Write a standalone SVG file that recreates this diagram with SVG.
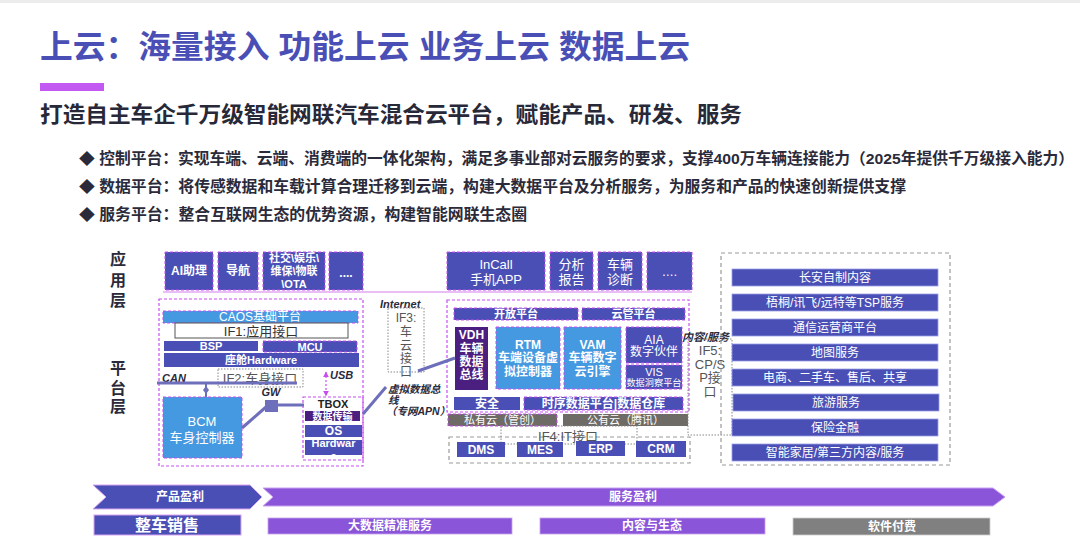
<svg xmlns="http://www.w3.org/2000/svg" width="1080" height="543" viewBox="0 0 1080 543">
<style>
text { font-family: "Liberation Sans", "Noto Sans CJK SC", sans-serif; }
.c { text-anchor: middle; dominant-baseline: central; }
.m { dominant-baseline: central; }
.w { fill: #ffffff; }
.b { font-weight: bold; }
.ind { fill: #4a4fb6; }
.indd { fill: #4a4fb6; stroke: #c84cf0; stroke-width: 1; stroke-dasharray: 3 2; }
.blue { fill: #4599e0; stroke: #c84cf0; stroke-width: 1; stroke-dasharray: 3 2; }
.dp { fill: #4a1f80; }
.mag { fill: none; stroke: #c84cf0; stroke-width: 1.2; stroke-dasharray: 3 2; }
.gdot { fill: none; stroke: #888888; stroke-width: 1; stroke-dasharray: 1.5 1.5; }
.gdash { fill: none; stroke: #9a9a9a; stroke-width: 1.2; stroke-dasharray: 4 3; }
.conn { stroke: #6e6fbb; stroke-width: 3; fill: none; }
.lab { font-weight: bold; font-style: italic; fill: #2a2a3a; font-size: 11px; }
.gt { fill: #555555; font-size: 13px; }
.svc { fill: #4a4fb6; stroke: #9a9ee6; stroke-width: 0.8; }
.cloud { fill: #6e6a66; }
.pur { fill: #8a55d8; }
</style>
<defs>
<marker id="ah" viewBox="0 0 10 10" refX="9" refY="5" markerWidth="5" markerHeight="5" orient="auto-start-reverse">
<path d="M0,0 L10,5 L0,10 z" fill="#c84cf0"/>
</marker>
<clipPath id="hwclip"><rect x="305" y="440" width="57" height="15"/></clipPath>
</defs>

<rect x="0" y="0" width="1080" height="3" fill="#ececec"/>

<g id="header">
<text x="40" y="47" class="m b" font-size="32" fill="#4a4fb6" textLength="650" lengthAdjust="spacingAndGlyphs">上云：海量接入 功能上云 业务上云 数据上云</text>
<rect x="40" y="83" width="64" height="8" fill="#c458f2"/>
<text x="40" y="114" class="m b" font-size="22" fill="#272838" textLength="702" lengthAdjust="spacingAndGlyphs">打造自主车企千万级智能网联汽车混合云平台，赋能产品、研发、服务</text>
<text x="79" y="158" class="m b" font-size="15.5" fill="#2a2a3a" textLength="995" lengthAdjust="spacingAndGlyphs">◆ 控制平台：实现车端、云端、消费端的一体化架构，满足多事业部对云服务的要求，支撑400万车辆连接能力（2025年提供千万级接入能力）</text>
<text x="79" y="186" class="m b" font-size="15.5" fill="#2a2a3a" textLength="827" lengthAdjust="spacingAndGlyphs">◆ 数据平台：将传感数据和车载计算合理迁移到云端，构建大数据平台及分析服务，为服务和产品的快速创新提供支撑</text>
<text x="79" y="214" class="m b" font-size="15.5" fill="#2a2a3a" textLength="448" lengthAdjust="spacingAndGlyphs">◆ 服务平台：整合互联网生态的优势资源，构建智能网联生态圈</text>
</g>

<g id="layer-labels" class="b" font-size="16" fill="#2a2a3a">
<text x="118" y="259" class="c">应</text>
<text x="118" y="280" class="c">用</text>
<text x="118" y="300" class="c">层</text>
<text x="118" y="368" class="c">平</text>
<text x="118" y="388" class="c">台</text>
<text x="118" y="406" class="c">层</text>
</g>

<line x1="163" y1="292" x2="692" y2="292" stroke="#e2a8f2" stroke-width="1.5"/>

<g id="app-ai"><rect x="165" y="252" width="48" height="38" class="indd"/><text x="189" y="271" class="c w b" font-size="12">AI助理</text></g>
<g id="app-nav"><rect x="218" y="252" width="40" height="38" class="indd"/><text x="238" y="271" class="c w b" font-size="12">导航</text></g>
<g id="app-social"><rect x="263" y="252" width="62" height="38" class="indd"/>
<text x="294" y="258" class="c w b" font-size="11">社交\娱乐\</text>
<text x="294" y="271" class="c w b" font-size="11">维保\物联</text>
<text x="294" y="284" class="c w b" font-size="11">\OTA</text></g>
<g id="app-more1"><rect x="329" y="252" width="34" height="38" class="indd"/><text x="346" y="273" class="c w b" font-size="12">....</text></g>

<g id="app-incall"><rect x="447" y="252" width="98" height="38" class="indd"/>
<text x="496" y="264" class="c w" font-size="13">InCall</text><text x="496" y="279" class="c w" font-size="13">手机APP</text></g>
<g id="app-report"><rect x="550" y="252" width="43" height="38" class="indd"/>
<text x="571.5" y="264" class="c w" font-size="13">分析</text><text x="571.5" y="279" class="c w" font-size="13">报告</text></g>
<g id="app-diag"><rect x="598" y="252" width="44" height="38" class="indd"/>
<text x="620" y="264" class="c w" font-size="13">车辆</text><text x="620" y="279" class="c w" font-size="13">诊断</text></g>
<g id="app-more2"><rect x="647" y="252" width="45" height="38" class="indd"/><text x="669.5" y="272" class="c w" font-size="12">….</text></g>

<g id="vehicle-platform">
<rect x="159" y="299" width="204" height="167" class="mag"/>
<rect x="163" y="311" width="195" height="12" class="blue"/>
<text x="260" y="317" class="c w" font-size="12">CAOS基础平台</text>
<rect x="175" y="323" width="173" height="15" fill="#ffffff" stroke="#555555" stroke-width="1"/>
<text x="261" y="331" class="c" font-size="13" fill="#333333">IF1:应用接口</text>
<rect x="164" y="341" width="94" height="10" class="ind"/>
<text x="211" y="346" class="c w b" font-size="11">BSP</text>
<rect x="263" y="341" width="94" height="11" class="indd"/>
<text x="310" y="346.5" class="c w b" font-size="11">MCU</text>
<rect x="164" y="353" width="195" height="14" class="ind"/>
<text x="261" y="360" class="c w b" font-size="11">座舱Hardware</text>
</g>

<g id="if2"><rect x="218" y="369" width="85" height="18" class="gdot"/><text x="260" y="378" class="c gt">IF2:车身接口</text></g>
<text x="162" y="378" class="m lab">CAN</text>

<g id="bcm"><rect x="163" y="397" width="79" height="61" class="blue"/>
<text x="202" y="421" class="c w" font-size="13">BCM</text><text x="202" y="437" class="c w" font-size="13">车身控制器</text></g>

<g id="gw"><rect x="265" y="400" width="13" height="12" fill="#6e6fbb"/><text x="271" y="392" class="c lab">GW</text></g>

<g id="tbox"><rect x="303" y="397" width="60" height="63" fill="#ffffff" class="mag"/>
<text x="333" y="404" class="c b" font-size="11" fill="#222">TBOX</text>
<rect x="305" y="411" width="55" height="10" class="dp"/>
<text x="332.5" y="416" class="c w b" font-size="10">数据传输</text>
<rect x="305" y="425" width="57" height="12" class="ind"/>
<text x="333.5" y="431" class="c w b" font-size="12">OS</text>
<rect x="305" y="440" width="57" height="15" class="ind"/>
<g clip-path="url(#hwclip)"><text x="333.5" y="443" class="c w b" font-size="11">Hardwar</text><text x="333.5" y="456" class="c w b" font-size="11">e</text></g>
</g>
<text x="330" y="375" class="m lab">USB</text>

<text x="380" y="304" class="m lab">Internet</text>
<g id="if3"><rect x="388" y="308" width="36" height="64" class="gdot"/>
<text x="406" y="318" class="c gt" style="font-size:12px">IF3:</text><text x="406" y="332" class="c gt" style="font-size:12px">车</text><text x="406" y="346" class="c gt" style="font-size:12px">云</text><text x="406" y="359" class="c gt" style="font-size:12px">接</text><text x="406" y="372" class="c gt" style="font-size:12px">口</text></g>
<g class="lab">
<text x="388" y="389" class="m" style="font-size:10.5px">虚拟数据总</text>
<text x="388" y="400" class="m" style="font-size:10.5px">线</text>
<text x="386" y="411" class="m" style="font-size:10.5px">（专网APN）</text>
</g>

<g id="cloud-platform">
<rect x="447" y="300" width="242" height="112" class="mag"/>
<rect x="454" y="308" width="124" height="12" class="indd"/><text x="516" y="314" class="c w b" font-size="11">开放平台</text>
<rect x="582" y="308" width="103" height="12" class="indd"/><text x="633.5" y="314" class="c w b" font-size="11">云管平台</text>
</g>
<g id="vdh"><rect x="455" y="327" width="33" height="63" class="dp"/>
<text x="471.5" y="335" class="c w b" font-size="12">VDH</text><text x="471.5" y="349" class="c w b" font-size="12">车辆</text><text x="471.5" y="362" class="c w b" font-size="12">数据</text><text x="471.5" y="375" class="c w b" font-size="12">总线</text></g>
<g id="rtm"><rect x="496" y="327" width="64" height="62" class="blue"/>
<text x="528" y="345" class="c w b" font-size="12">RTM</text><text x="528" y="358" class="c w b" font-size="12">车端设备虚</text><text x="528" y="372" class="c w b" font-size="12">拟控制器</text></g>
<g id="vam"><rect x="564" y="327" width="57" height="62" class="blue"/>
<text x="592.5" y="345" class="c w b" font-size="12">VAM</text><text x="592.5" y="358" class="c w b" font-size="12">车辆数字</text><text x="592.5" y="372" class="c w b" font-size="12">云引擎</text></g>
<g id="aia"><rect x="626" y="327" width="56" height="36" class="indd"/>
<text x="654" y="340" class="c w" font-size="12">AIA</text><text x="654" y="352" class="c w" font-size="12">数字伙伴</text></g>
<g id="vis"><rect x="626" y="365" width="56" height="24" class="indd"/>
<text x="654" y="372" class="c w" font-size="11">VIS</text><text x="654" y="383" class="c w" font-size="9.2">数据洞察平台</text></g>
<g id="security"><rect x="454" y="397" width="66" height="13" class="ind"/><text x="487" y="403.5" class="c w b" font-size="12">安全</text></g>
<g id="tsdb"><rect x="524" y="397" width="159" height="13" class="indd"/><text x="603.5" y="403.5" class="c w b" font-size="12">时序数据平台|数据仓库</text></g>
<g id="private-cloud"><rect x="448" y="414" width="109" height="12" class="cloud" stroke="#c84cf0" stroke-width="1" stroke-dasharray="3 2"/><text x="502.5" y="420" class="c w" font-size="11">私有云（管创）</text></g>
<g id="public-cloud"><rect x="563" y="414" width="125" height="12" class="cloud"/><text x="625.5" y="420" class="c w" font-size="11">公有云（腾讯）</text></g>

<g id="it-systems">
<rect x="449" y="437" width="241" height="26" class="gdash"/>
<rect x="501" y="426" width="136" height="18" class="gdot"/>
<text x="568" y="436" class="c gt">IF4:IT接口</text>
<rect x="457" y="442" width="48" height="15" class="ind"/><text x="481" y="449.5" class="c w b" font-size="12">DMS</text>
<rect x="517" y="442" width="46" height="15" class="ind"/><text x="540" y="449.5" class="c w b" font-size="12">MES</text>
<rect x="576" y="441" width="49" height="15" class="ind"/><text x="600.5" y="448.5" class="c w b" font-size="12">ERP</text>
<rect x="636" y="441" width="50" height="16" class="ind"/><text x="661" y="449" class="c w b" font-size="12">CRM</text>
</g>

<text x="682" y="337" class="m lab">内容/服务</text>
<g id="if5"><rect x="688" y="339" width="44" height="96" class="gdot"/>
<text x="710" y="350" class="c gt">IF5:</text><text x="710" y="364" class="c gt">CP/S</text><text x="710" y="377" class="c gt">P接</text><text x="710" y="391" class="c gt">口</text></g>

<g id="services">
<rect x="721" y="253" width="229" height="212" class="gdash"/>
<rect x="732" y="269" width="206" height="17" class="svc"/><text x="835" y="277.5" class="c w" font-size="12">长安自制内容</text>
<rect x="732" y="294" width="206" height="17" class="svc"/><text x="835" y="302.5" class="c w" font-size="12">梧桐/讯飞/远特等TSP服务</text>
<rect x="732" y="319" width="206" height="17" class="svc"/><text x="835" y="327.5" class="c w" font-size="12">通信运营商平台</text>
<rect x="732" y="344" width="206" height="17" class="svc"/><text x="835" y="352.5" class="c w" font-size="12">地图服务</text>
<rect x="732" y="369" width="206" height="17" class="svc"/><text x="835" y="377.5" class="c w" font-size="12">电商、二手车、售后、共享</text>
<rect x="733" y="394" width="206" height="17" class="svc"/><text x="836" y="402.5" class="c w" font-size="12">旅游服务</text>
<rect x="732" y="419" width="206" height="17" class="svc"/><text x="835" y="427.5" class="c w" font-size="12">保险金融</text>
<rect x="732" y="444" width="206" height="17" class="svc"/><text x="835" y="452.5" class="c w" font-size="12">智能家居/第三方内容/服务</text>
</g>

<g id="connectors">
<line x1="157" y1="383" x2="297" y2="383" class="conn"/>
<line x1="206" y1="383" x2="206" y2="397" stroke="#6e6fbb" stroke-width="2"/>
<path d="M206,386 L209,390 L206,394 L203,390 z" fill="#6e6fbb"/>
<line x1="242" y1="428" x2="266" y2="407" class="conn"/>
<line x1="278" y1="405" x2="304" y2="405" class="conn"/>
<line x1="326" y1="372" x2="326" y2="396" stroke="#c84cf0" stroke-width="1.2" stroke-dasharray="2 2" marker-start="url(#ah)" marker-end="url(#ah)"/>
<line x1="418" y1="371" x2="455" y2="358" class="conn"/>
<line x1="363" y1="414" x2="386" y2="387" class="conn"/>
</g>

<g id="revenue">
<polygon points="93,485 250,485 262,497 250,509 93,509 106,497" fill="#4a4fb6" stroke="#d9a6f2" stroke-width="1"/>
<text x="180" y="497" class="c w b" font-size="12">产品盈利</text>
<polygon points="263,488 993,488 1005,497 993,506 263,506 273,497" class="pur" stroke="#c9a0f0" stroke-width="1"/>
<text x="633" y="497" class="c w b" font-size="12">服务盈利</text>
<rect x="94" y="515" width="147" height="20" fill="#4a4fb6" stroke="#d9a6f2" stroke-width="1"/>
<text x="167" y="525" class="c w b" font-size="16">整车销售</text>
<rect x="268" y="518" width="244" height="16" class="pur" stroke="#c9a0f0" stroke-width="0.8"/>
<text x="390" y="526" class="c w b" font-size="12">大数据精准服务</text>
<rect x="540" y="518" width="225" height="16" class="pur" stroke="#c9a0f0" stroke-width="0.8"/>
<text x="652" y="526" class="c w b" font-size="12">内容与生态</text>
<rect x="793" y="518" width="197" height="17" fill="#808080" stroke="#cccccc" stroke-width="0.8"/>
<text x="892" y="526.5" class="c w b" font-size="12">软件付费</text>
</g>
</svg>
